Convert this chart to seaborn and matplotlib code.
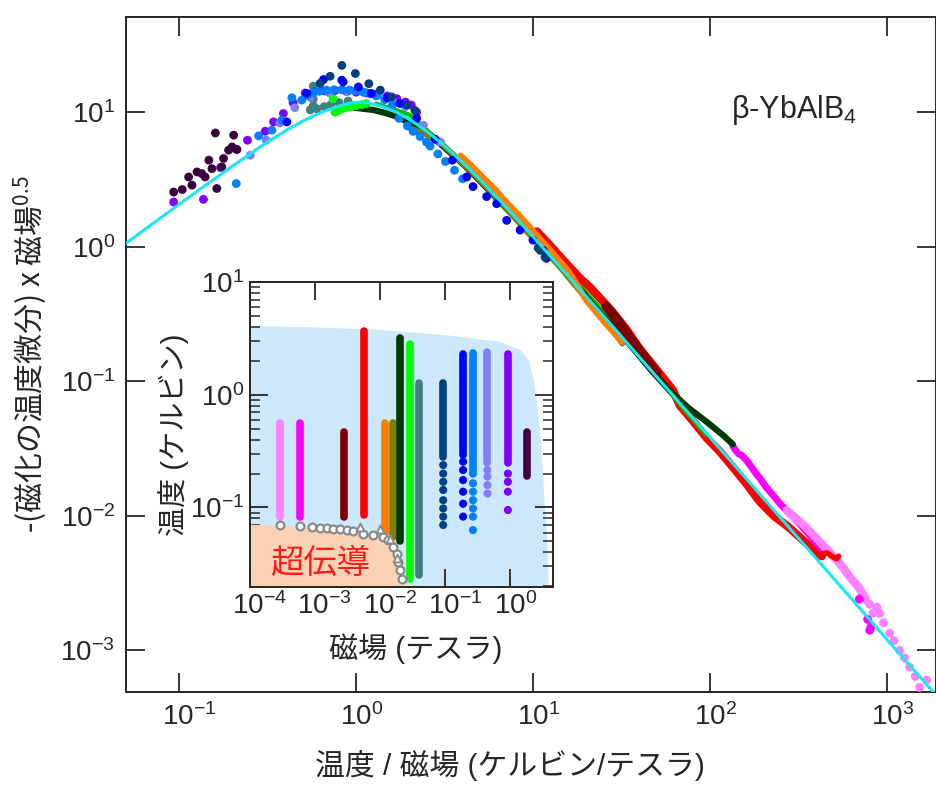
import numpy as np
import matplotlib
matplotlib.use("Agg")
import matplotlib.pyplot as plt
import matplotlib.transforms as mtrans
import seaborn as sns
from matplotlib.ticker import LogLocator, NullLocator

# ---- main panel: scaling curve (cyan) ----
curve_x = [0.05, 0.07, 0.1, 0.15, 0.2, 0.3, 0.4, 0.5, 0.6, 0.7, 0.8, 0.9, 1.0, 1.1, 1.2, 1.4, 1.7,
           2.0, 2.5, 3.0, 4.0, 5.0, 7.0, 10, 15, 20, 30, 50, 100, 200, 300, 500, 1000, 1900]
curve_y = [1.06, 1.47, 2.07, 3.04, 3.98, 5.75, 7.3, 8.6, 9.65, 10.45, 11.1, 11.6, 11.85, 11.85, 11.65,
           11.05, 9.95, 8.85, 7.25, 5.97, 4.24, 3.17, 1.99, 1.19, 0.654, 0.427, 0.233, 0.108, 0.0384,
           0.0136, 0.0074, 0.00344, 0.00121, 0.000464]

# ---- main panel: data for each field (T/B, -dM/dT * B^0.5) ----
dkpurple_x = [0.093, 0.104, 0.118, 0.113, 0.126, 0.134, 0.140, 0.147, 0.153, 0.163, 0.174, 0.178,
              0.190, 0.199, 0.203, 0.160, 0.212]
dkpurple_y = [2.55, 2.66, 2.87, 3.30, 3.60, 3.50, 3.30, 4.40, 3.81, 2.71, 3.92, 4.53, 5.22, 5.52,
              6.75, 7.01, 5.28]

violet_x = [0.093, 0.137, 0.171, 0.21, 0.243, 0.306, 0.341, 0.388, 0.44, 0.515, 0.58, 0.66, 0.76,
            0.88, 1.0, 1.15, 1.3, 1.5, 1.7, 1.9, 2.05, 2.2]
violet_y = [2.15, 2.25, 3.88, 5.31, 6.19, 7.22, 8.48, 9.78, 11.8, 13.9, 14.2, 14.4, 14.5, 14.3, 14.1,
            13.9, 13.6, 13.2, 12.6, 11.9, 11.3, 10.0]

lavender_x = [0.252, 0.31, 0.37, 0.45, 0.55, 0.7, 0.9, 1.1, 1.35, 1.6, 1.9, 2.4, 3.0]
lavender_y = [4.79, 6.2, 8.3, 10.8, 12.9, 14.0, 14.3, 14.1, 13.5, 12.4, 11.0, 8.0, 6.0]

ltblue_x = [0.21, 0.281, 0.334, 0.38, 0.433, 0.493, 0.53, 0.57, 0.62, 0.68, 0.75, 0.83, 0.92, 1.0,
            1.1, 1.2, 1.3, 1.45, 1.6, 1.75, 1.95, 2.1, 2.3, 2.5, 2.62, 2.9, 3.2, 3.6, 4.0]
ltblue_y = [2.95, 6.67, 7.35, 8.72, 12.8, 12.3, 13.4, 14.0, 14.3, 14.6, 14.7, 14.7, 14.6, 14.4,
            14.1, 13.7, 13.2, 12.4, 11.2, 9.0, 7.9, 7.2, 6.6, 6.0, 5.6, 4.9, 4.3, 3.7, 3.2]

blue_x = [0.406, 0.526, 0.654, 0.83, 0.845, 1.03, 1.22, 1.5, 1.77, 2.2, 2.8, 3.5, 4.22, 4.58, 5.47,
          6.23, 7.10, 8.45, 10.0, 11.4, 11.9]
blue_y = [8.47, 13.8, 17.5, 17.3, 16.8, 15.4, 13.8, 12.8, 11.6, 9.0, 6.3, 4.4, 3.30, 2.80, 2.36,
          2.09, 1.57, 1.33, 1.12, 0.94, 0.82]

navy_x = [0.626, 0.713, 0.83, 0.99, 1.18, 1.37, 1.59, 1.93, 2.15, 10.7, 11.0, 11.7]
navy_y = [16.4, 18.5, 22.3, 19.4, 16.3, 14.6, 13.0, 11.3, 10.3, 0.98, 0.94, 0.84]

teal_x = [0.572, 0.572, 0.572, 0.572, 0.55, 0.6, 0.66, 0.72, 0.8, 0.9]
teal_y = [15.6, 14.0, 12.5, 11.2, 10.4, 10.6, 11.0, 11.4, 11.8, 12.1]

green_x = [0.74, 0.76, 0.78, 0.82, 0.87, 0.93, 1.0, 1.08, 1.14]
green_y = [12.6, 10.0, 10.2, 10.5, 10.8, 11.0, 11.2, 11.4, 11.6]
green_band_x = [1.3, 2.0, 3.0, 6.0, 12, 25, 50, 95]
green_band_y = [11.6, 9.6, 6.0, 2.4, 0.95, 0.33, 0.108, 0.040]

dkgreen_x = [0.98, 1.1, 1.25, 1.45, 1.65, 1.85, 2.02, 2.5, 3.0, 4.0, 5.0, 7.0, 9.0, 13, 18, 23,
             28.3, 35, 47.6, 60, 75, 95.8, 118, 135]
dkgreen_y = [10.8, 10.6, 10.4, 9.9, 9.4, 8.8, 8.2, 7.0, 5.8, 4.15, 3.1, 1.95, 1.4, 0.84, 0.50, 0.34,
             0.255, 0.19, 0.117, 0.084, 0.064, 0.050, 0.040, 0.034]

olive_x = [2.02, 2.4, 2.98, 3.9, 4.6, 6, 8, 10, 14, 20, 26, 32]
olive_y = [7.6, 7.0, 6.0, 4.3, 3.5, 2.45, 1.6, 1.15, 0.72, 0.41, 0.28, 0.19]

orange_x = [3.9, 4.5, 5.0, 6.0, 7.0, 8.5, 10.5, 13, 16, 20, 26, 32]
orange_y = [4.75, 3.98, 3.46, 2.73, 2.17, 1.67, 1.22, 0.89, 0.65, 0.40, 0.265, 0.196]

red_x = [10.5, 12.5, 14.5, 18.5, 21, 25, 28, 34, 40, 50, 61.8, 67.7, 80, 95.8, 114, 135, 160, 191,
         230, 280, 340, 400, 430]
red_y = [1.30, 1.02, 0.82, 0.58, 0.50, 0.39, 0.33, 0.24, 0.175, 0.122, 0.086, 0.066, 0.051, 0.038,
         0.030, 0.023, 0.0175, 0.0128, 0.0100, 0.0082, 0.0065, 0.0054, 0.0050]
red_spike_x = [430, 460, 490, 520, 535]
red_spike_y = [0.0052, 0.0053, 0.0050, 0.0048, 0.0050]

dkred_x = [26, 28, 31, 35, 40, 45, 50]
dkred_y = [0.36, 0.32, 0.27, 0.215, 0.170, 0.138, 0.115]

magenta_x = [135, 139, 145, 152, 161, 172, 182, 195, 208, 228, 248, 265, 283, 320, 380, 450]
magenta_y = [0.033, 0.031, 0.029, 0.028, 0.0259, 0.023, 0.0207, 0.0185, 0.0163, 0.0142, 0.0124,
             0.0113, 0.0104, 0.0088, 0.0068, 0.0053]
magenta_dot_x = [700, 780, 802, 815]
magenta_dot_y = [0.0024, 0.0017, 0.00141, 0.0015]

pink_x = [272, 300, 340, 400, 450, 500, 560, 620, 700, 767]
pink_y = [0.0110, 0.0098, 0.0085, 0.0068, 0.0058, 0.0050, 0.0042, 0.0035, 0.0029, 0.00235]
pink_dot_x = [800, 840, 880, 912, 960, 1040, 1100, 1183, 1260, 1348, 1450, 1535, 1682]
pink_dot_y = [0.0022, 0.0019, 0.0021, 0.00188, 0.0016, 0.00134, 0.00118, 0.00100, 0.00088,
              0.00075, 0.00064, 0.00053, 0.00060]

# ---- inset: measured (field, temperature) ranges ----
col_field = [2.9e-4, 5.9e-4, 2.8e-3, 5.7e-3, 0.0118, 0.016, 0.020, 0.029, 0.040,
             0.094, 0.19, 0.27, 0.45, 0.93, 1.86]
col_tmin = [0.083, 0.083, 0.083, 0.085, 0.059, 0.055, 0.05, 0.023, 0.025,
            0.28, 0.29, 0.215, 0.246, 0.246, 0.19]
col_tmax = [0.56, 0.56, 0.47, 3.7, 0.56, 0.56, 3.2, 2.8, 1.27,
            1.27, 2.3, 2.35, 2.4, 2.3, 0.47]
col_color = ['#FF80FF', '#FF00FF', '#800000', '#FF0000', '#FF8000', '#808000', '#003A00',
             '#00FF00', '#408080', '#004080', '#0000FF', '#0080FF', '#8080FF', '#8000FF', '#400040']

# sparse low-temperature points below the dense part of some columns
tail_field = [0.094] * 8 + [0.19] * 6 + [0.27] * 7 + [0.45] * 4 + [0.93] * 4
tail_temp = [0.238, 0.2, 0.169, 0.143, 0.116, 0.098, 0.083, 0.07,
             0.255, 0.215, 0.175, 0.138, 0.108, 0.083,
             0.2, 0.164, 0.138, 0.116, 0.098, 0.083, 0.063,
             0.215, 0.188, 0.158, 0.133,
             0.2, 0.169, 0.138, 0.095]
tail_color = ['#004080'] * 8 + ['#0000FF'] * 6 + ['#0080FF'] * 7 + ['#8080FF'] * 4 + ['#8000FF'] * 4

# non-superconducting (light blue) and superconducting (peach) regions
nfl_field = [1e-4, 1e-3, 1e-2, 0.1, 0.7, 1.43, 1.91, 2.29, 2.57, 2.9, 3.26, 3.67, 3.9]
nfl_temp = [4.11, 4.0, 3.8, 3.42, 2.98, 2.51, 2.05, 1.36, 0.84, 0.43, 0.153, 0.055, 0.0197]
sc_field = [1e-4, 3.5e-3, 1e-2, 0.016, 0.0204, 0.0243]
sc_temp = [0.071, 0.065, 0.0548, 0.0447, 0.034, 0.0196]

tc_field = [2.9e-4, 5.9e-4, 8.9e-4, 1.19e-3, 1.51e-3, 1.92e-3, 2.43e-3, 3.07e-3, 3.89e-3,
            5.55e-3, 7.9e-3, 0.0112, 0.0134, 0.016, 0.018, 0.0191, 0.0203, 0.0216]
tc_temp = [0.0696, 0.0682, 0.0673, 0.0664, 0.0661, 0.065, 0.0646, 0.0637, 0.062,
           0.0587, 0.0568, 0.0548, 0.0512, 0.0447, 0.039, 0.0328, 0.0277, 0.0233]
tc2_field = [4.9e-3, 0.01, 0.0143, 0.0185]
tc2_temp = [0.0673, 0.065, 0.053, 0.036]

sns.set_style("ticks")
plt.rcParams['font.family'] = ['Liberation Sans', 'Noto Sans CJK JP']
plt.rcParams['axes.unicode_minus'] = True


def dots(a, x, y, c, s=40, z=3):
    sns.scatterplot(x=x, y=y, color=c, s=s, edgecolor='none', ax=a, zorder=z, legend=False)


def band(a, x, y, c, lw=5, z=2):
    sns.lineplot(x=x, y=y, color=c, lw=lw, sort=False, estimator=None, ax=a, zorder=z,
                 legend=False, solid_capstyle='round')


def shift_xticklabels(a):
    # Igor-style: centre the mantissa "10" on the tick, not the whole label
    for lab in a.get_xticklabels():
        dx = 7 if ('−' in lab.get_text() or '-' in lab.get_text()) else 4
        off = mtrans.ScaledTranslation(dx / 72, 0, fig.dpi_scale_trans)
        lab.set_transform(lab.get_transform() + off)


fig = plt.figure(figsize=(9.37, 7.85), dpi=100)
ax = fig.add_axes([0.1345, 0.1185, 0.8644, 0.8598])
ax.set_xscale('log')
ax.set_yscale('log')

band(ax, red_x, red_y, '#FF0000', lw=6)
band(ax, magenta_x, magenta_y, '#FF00FF', lw=5)
dots(ax, magenta_dot_x, magenta_dot_y, '#FF00FF')
band(ax, pink_x, pink_y, '#FF80FF', lw=6)
dots(ax, pink_dot_x, pink_dot_y, '#FF80FF')
band(ax, red_spike_x, red_spike_y, '#FF0000', lw=4)
band(ax, green_band_x, green_band_y, '#00C000', lw=3)
band(ax, dkgreen_x, dkgreen_y, '#003A00', lw=4.5)
band(ax, dkred_x, dkred_y, '#800000', lw=7)
band(ax, olive_x, olive_y, '#808000', lw=4)
band(ax, orange_x, orange_y, '#FF8000', lw=4.5)
dots(ax, teal_x, teal_y, '#408080')
dots(ax, green_x, green_y, '#00FF00')
dots(ax, violet_x, violet_y, '#8000FF')
dots(ax, lavender_x, lavender_y, '#8080FF')
dots(ax, ltblue_x, ltblue_y, '#0080FF')
dots(ax, blue_x, blue_y, '#0000FF')
dots(ax, navy_x, navy_y, '#004080')
dots(ax, dkpurple_x, dkpurple_y, '#3C003C')
sns.lineplot(x=curve_x, y=curve_y, color='#19E8F0', lw=2.2, sort=False, estimator=None,
             ax=ax, zorder=5, legend=False)

ax.set_xlim(0.05, 1900)
ax.set_ylim(4.9e-4, 51)
for axis in (ax.xaxis, ax.yaxis):
    axis.set_major_locator(LogLocator(base=10, numticks=20))
    axis.set_minor_locator(NullLocator())
ax.tick_params(which='major', direction='in', length=14, width=1.3, top=True, right=True,
               labelsize=20, pad=8)
for sp in ax.spines.values():
    sp.set_linewidth(1.4)

ax.set_xlabel('温度 / 磁場 (ケルビン/テスラ)', fontsize=21.5)
ax.xaxis.set_label_coords(0.474, -0.086)
ax.set_ylabel('-(磁化の温度微分) x 磁場$^{\\mathdefault{0.5}}$', fontsize=21.5,
              family=['Noto Sans CJK JP'])
ax.yaxis.set_label_coords(-0.094, 0.5)
ax.text(0.825, 0.862, 'β-YbAlB$_{\\mathdefault{4}}$', transform=ax.transAxes, fontsize=22,
        ha='center', va='center')

# ---- inset ----
ins = fig.add_axes([0.2668, 0.2522, 0.3234, 0.3885])
ins.set_xscale('log')
ins.set_yscale('log')
ins.fill_between(nfl_field, 1e-3, nfl_temp, color='#CCE8FA', lw=0, zorder=0)
ins.fill_between(sc_field, 1e-3, sc_temp, color='#FAD3B5', lw=0, zorder=1)

for b, t0, t1, c in zip(col_field, col_tmin, col_tmax, col_color):
    band(ins, [b, b], [t0, t1], c, lw=5.5, z=3)
for b, t, c in zip(tail_field, tail_temp, tail_color):
    dots(ins, [b], [t], c, s=34, z=3)

sns.scatterplot(x=tc_field, y=tc_temp, color='white', edgecolor='#8A8A8A', linewidth=1.6,
                s=32, marker='o', ax=ins, zorder=4, legend=False)
sns.scatterplot(x=tc2_field, y=tc2_temp, color='white', edgecolor='#8A8A8A', linewidth=1.4,
                s=32, marker='^', ax=ins, zorder=4, legend=False)

ins.text(0.23, 0.075, '超伝導', transform=ins.transAxes, color='#FF1A1A', fontsize=24,
         ha='center', va='center')

ins.set_xlim(1e-4, 4.6)
ins.set_ylim(0.0197, 10)
ins.xaxis.set_major_locator(LogLocator(base=10, numticks=20))
ins.xaxis.set_minor_locator(NullLocator())
ins.yaxis.set_major_locator(LogLocator(base=10, numticks=20))
ins.yaxis.set_minor_locator(LogLocator(base=10, subs=np.arange(2, 10), numticks=20))
ins.tick_params(which='major', direction='in', length=13, width=1.3, top=True, right=True,
                labelsize=20, pad=4)
ins.tick_params(which='minor', direction='in', length=7, width=1.1, left=True, right=True,
                labelleft=False)
for sp in ins.spines.values():
    sp.set_linewidth(1.4)
ins.set_xlabel('磁場 (テスラ)', fontsize=21)
ins.xaxis.set_label_coords(0.548, -0.151)
ins.set_ylabel('温度 (ケルビン)', fontsize=21, labelpad=1)

fig.canvas.draw()
shift_xticklabels(ax)
shift_xticklabels(ins)

fig.savefig('out.png', dpi=100)
